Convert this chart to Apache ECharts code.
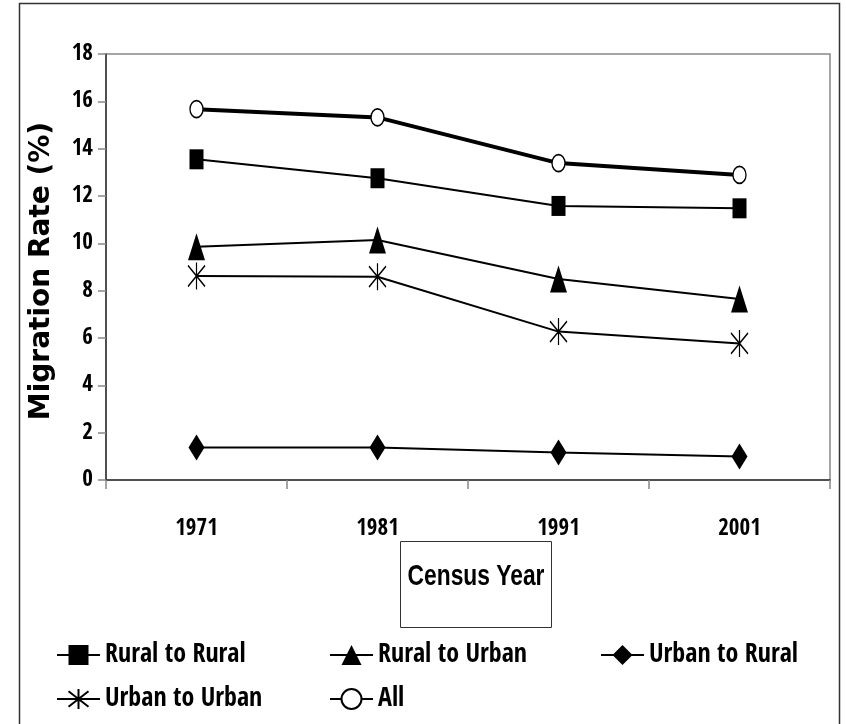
<!DOCTYPE html>
<html><head><meta charset="utf-8">
<script src="https://cdn.jsdelivr.net/npm/echarts@6/dist/echarts.min.js"></script>
<style>html,body{margin:0;padding:0;background:#fff}#c{width:846px;height:724px}</style>
</head><body><div id="c"></div>
<script>
const categories = ['1971', '1981', '1991', '2001'];
const ruralToRural = [13.55, 12.75, 11.58, 11.48];
const ruralToUrban = [9.86, 10.14, 8.49, 7.65];
const urbanToRural = [1.37, 1.37, 1.16, 0.99];
const urbanToUrban = [8.62, 8.59, 6.27, 5.77];
const allMigration = [15.67, 15.32, 13.39, 12.89];
const seriesNames = ['Rural to Rural', 'Rural to Urban', 'Urban to Rural', 'Urban to Urban', 'All'];
const yMin = 0, yMax = 18, yInterval = 2;

const BOLD = "'Liberation Sans',Arial,sans-serif";
const COND = "'Open Sans Condensed','Liberation Sans',sans-serif";
const chart = echarts.init(document.getElementById('c'), null, {renderer: 'canvas'});

const asterisk = 'path://M8,0L8,26M0,3L16,23M16,3L0,23';

function mk(name, data, symbol, size, opts) {
  opts = opts || {};
  return {
    name: name, type: 'line', data: data, symbol: symbol, symbolSize: size,
    showSymbol: true, z: opts.z || 2,
    lineStyle: {color: '#000', width: opts.lw || 2},
    itemStyle: {color: opts.fill || '#000', borderColor: '#000', borderWidth: opts.bw || 0},
    emphasis: {disabled: true}
  };
}

const legendPos = [[56, 642], [329, 642], [600, 642], [56, 686], [329, 686]];
const legends = seriesNames.map((n, i) => ({
  data: [n], left: legendPos[i][0], top: legendPos[i][1], orient: 'horizontal', padding: 0,
  itemWidth: 43, itemHeight: 25, selectedMode: false,
  textStyle: {fontFamily: COND, fontWeight: 'bold', fontSize: 26, color: '#000'}
}));

chart.setOption({
  animation: false,
  backgroundColor: '#fff',
  grid: {left: 106, top: 54, right: 16, bottom: 244, show: true, borderColor: '#888', borderWidth: 1.5, backgroundColor: 'transparent'},
  xAxis: {
    type: 'category', data: categories, boundaryGap: true,
    axisLine: {show: true, lineStyle: {color: '#333', width: 1.5}},
    axisTick: {show: true, length: 9, lineStyle: {color: '#888', width: 1.5}},
    axisLabel: {margin: 37, fontFamily: COND, fontWeight: 'bold', fontSize: 23, color: '#000'},
    splitLine: {show: false}
  },
  yAxis: {
    type: 'value', min: yMin, max: yMax, interval: yInterval,
    axisLine: {show: true, lineStyle: {color: '#333', width: 1.5}},
    axisTick: {show: true, length: 8, lineStyle: {color: '#888', width: 1.5}},
    axisLabel: {margin: 13, fontFamily: COND, fontWeight: 'bold', fontSize: 23, color: '#000'},
    splitLine: {show: false}
  },
  legend: legends,
  graphic: [
    {type: 'rect', silent: true, z: -10, shape: {x: 19.5, y: 3.5, width: 820, height: 760}, style: {fill: 'none', stroke: '#333', lineWidth: 1.5}},
    {type: 'rect', silent: true, shape: {x: 400.5, y: 541.5, width: 151, height: 86}, style: {fill: '#fff', stroke: '#333', lineWidth: 1}},
    {type: 'text', silent: true, x: 476, y: 577, scaleX: 0.76, style: {text: 'Census Year', fontFamily: BOLD, fontWeight: 'bold', fontSize: 30, fill: '#000', align: 'center', verticalAlign: 'middle'}},
    {type: 'text', silent: true, x: 42, y: 271, rotation: Math.PI / 2, style: {text: 'Migration Rate (%)', fontFamily: "'DejaVu Sans',sans-serif", fontWeight: 'bold', fontSize: 28, fill: '#000', align: 'center', verticalAlign: 'middle'}}
  ],
  series: [
    mk(seriesNames[0], ruralToRural, 'rect', [14, 20]),
    mk(seriesNames[1], ruralToUrban, 'triangle', [17, 27]),
    mk(seriesNames[2], urbanToRural, 'diamond', [16, 26]),
    mk(seriesNames[3], urbanToUrban, asterisk, [17, 27], {fill: 'none', bw: 1.5}),
    mk(seriesNames[4], allMigration, 'circle', [13, 17], {fill: '#fff', bw: 1.5, lw: 4, z: 3})
  ]
});
</script></body></html>
